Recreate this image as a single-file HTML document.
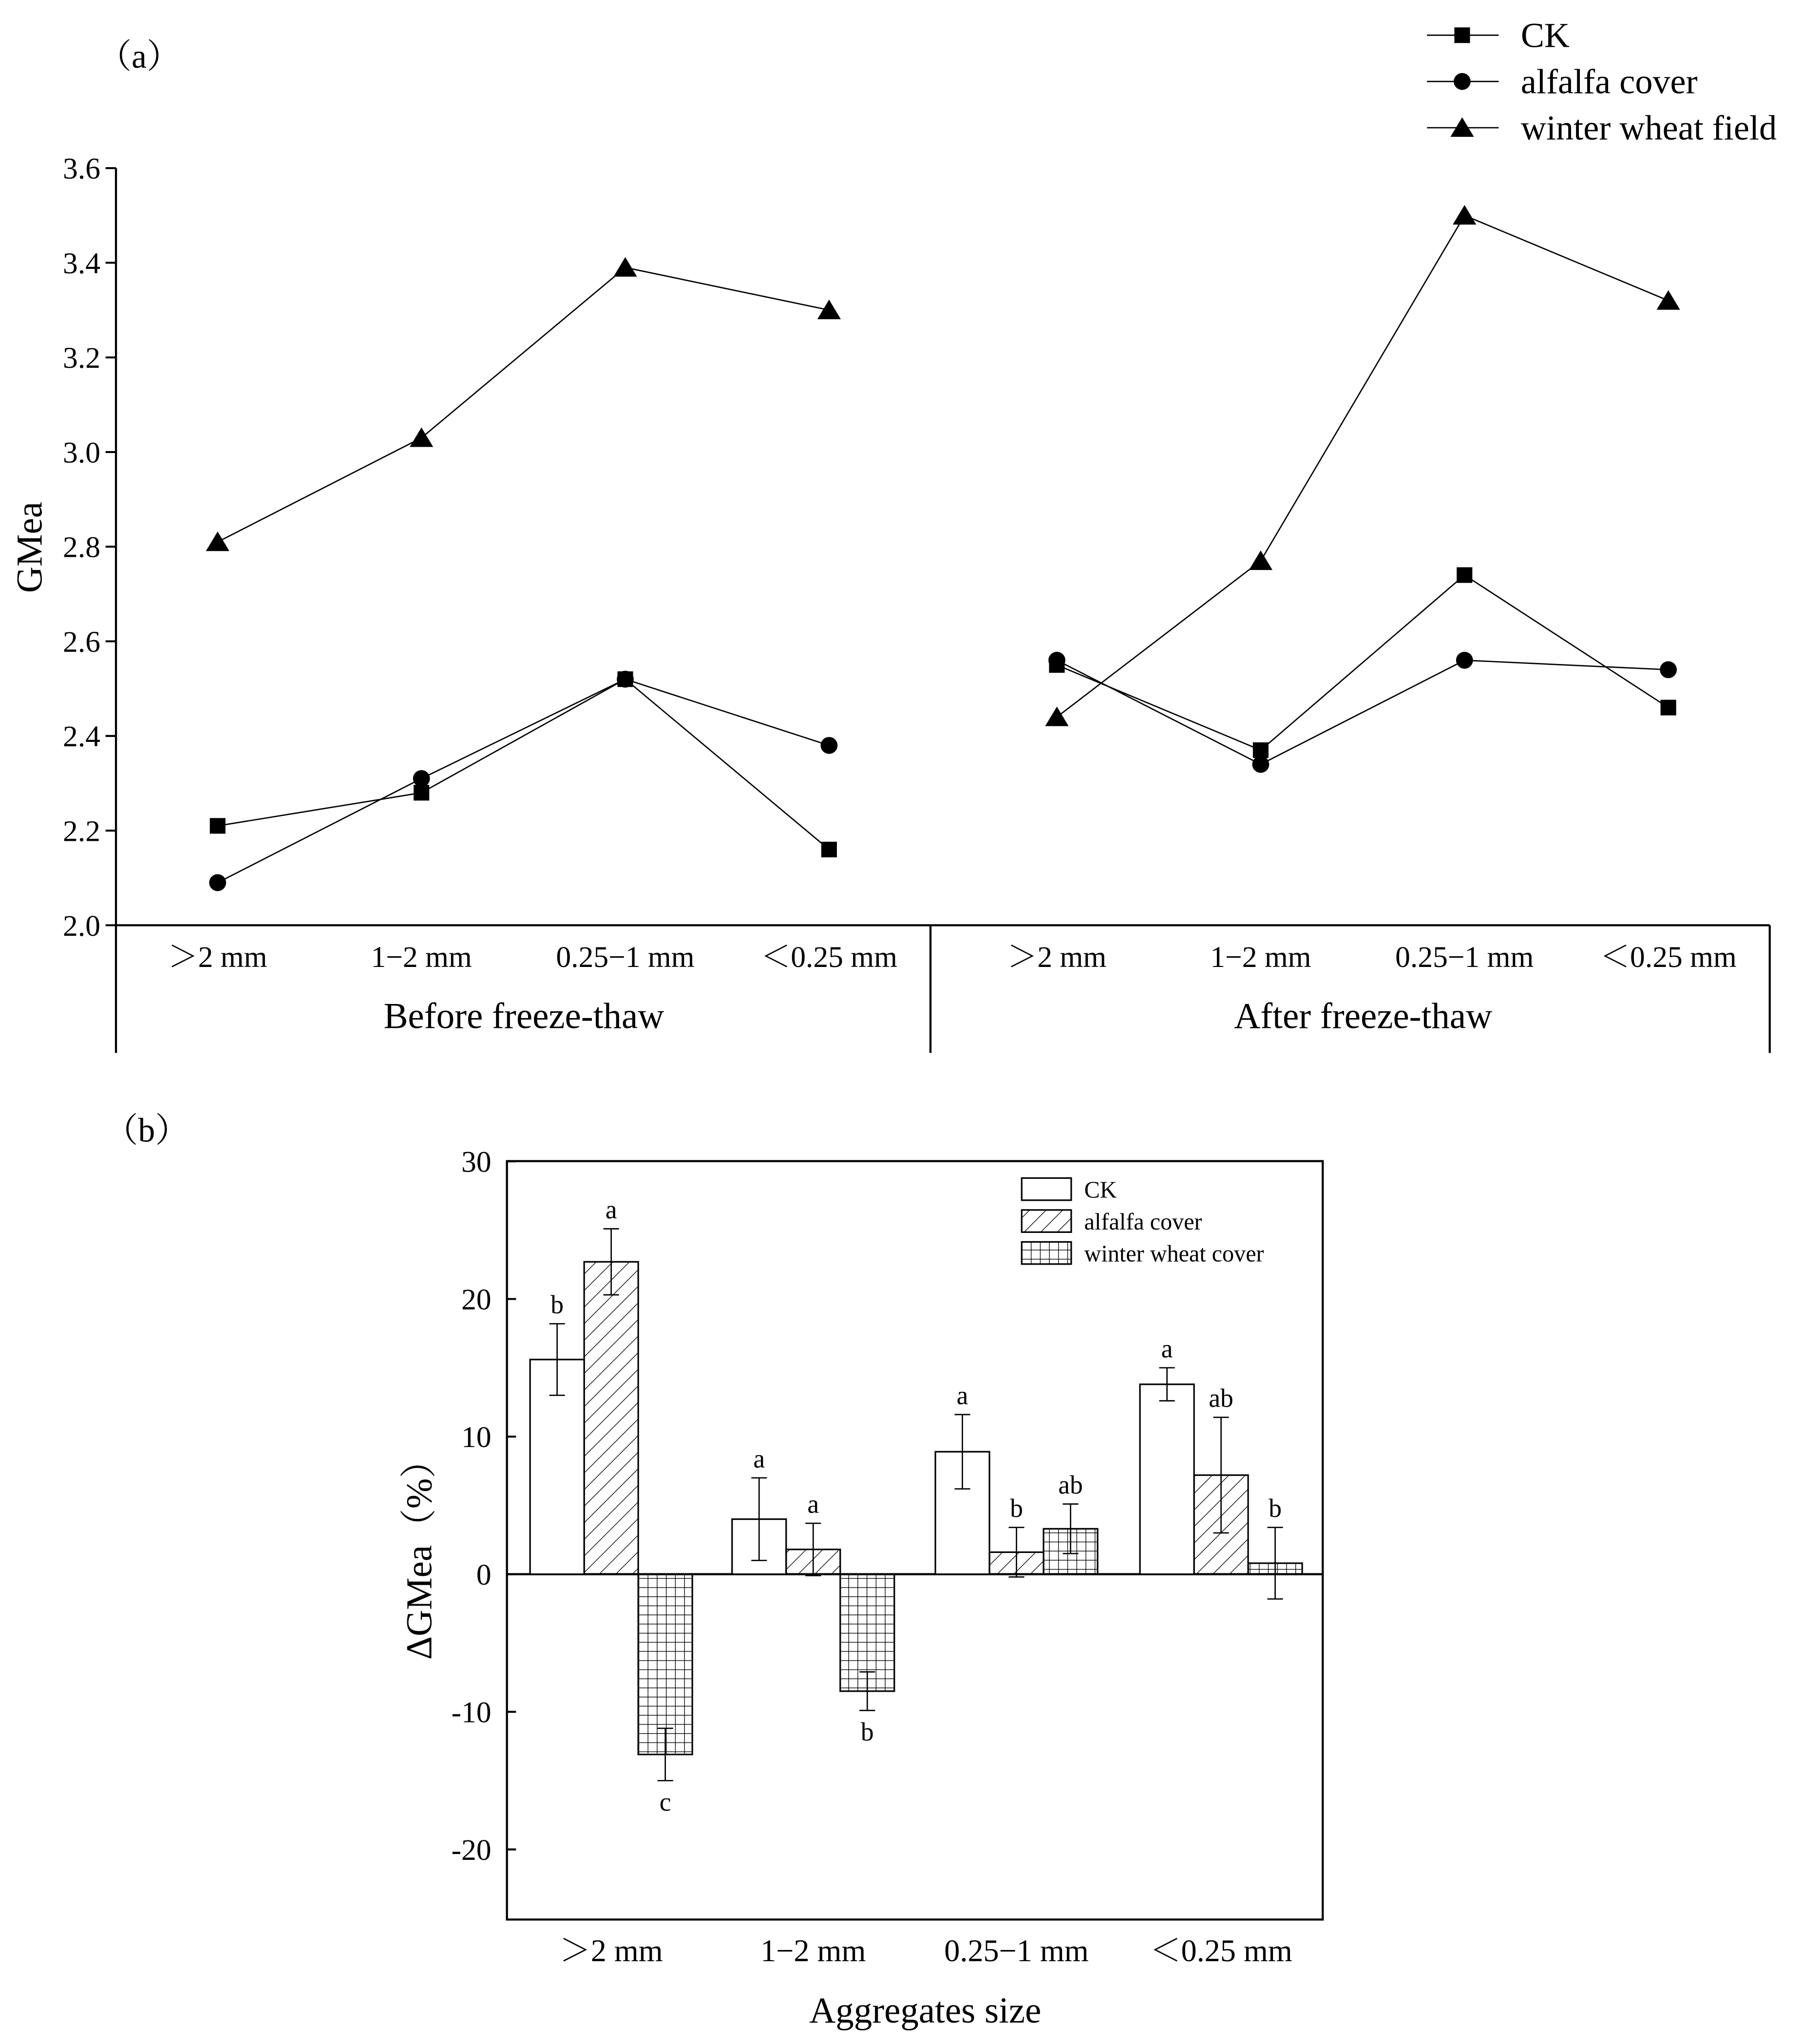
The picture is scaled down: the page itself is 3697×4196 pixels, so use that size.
<!DOCTYPE html>
<html><head><meta charset="utf-8"><style>
html,body{margin:0;padding:0;background:#fff}
svg{display:block}
text{font-family:"Liberation Serif","Noto Serif CJK SC",serif;fill:#000}
</style></head><body>
<svg width="3697" height="4196" viewBox="0 0 1382 1568.5" xmlns="http://www.w3.org/2000/svg">
<defs>
<pattern id="diag" width="9" height="9" patternUnits="userSpaceOnUse" patternTransform="rotate(45)"><line x1="0" y1="0" x2="0" y2="9" stroke="#000" stroke-width="1"/></pattern>
<pattern id="grid" width="7" height="7" patternUnits="userSpaceOnUse"><path d="M0 0H7M0 0V7" stroke="#000" stroke-width="1" fill="none"/></pattern>
</defs>
<g id="pa"></g>
<g id="pb"></g>
</svg>
<script>
const NS='http://www.w3.org/2000/svg';
// Panel A data
const catsA=['＞2 mm','1\u22122 mm','0.25\u22121 mm','＜0.25 mm'];
const groupsA=['Before freeze-thaw','After freeze-thaw'];
const ckBefore=[2.21,2.28,2.52,2.16];
const ckAfter=[2.55,2.37,2.74,2.46];
const alfBefore=[2.09,2.31,2.52,2.38];
const alfAfter=[2.56,2.34,2.56,2.54];
const whtBefore=[2.81,3.03,3.39,3.30];
const whtAfter=[2.44,2.77,3.50,3.32];
const ticksA=[2.0,2.2,2.4,2.6,2.8,3.0,3.2,3.4,3.6];
// Panel B data
const catsB=['＞2 mm','1\u22122 mm','0.25\u22121 mm','＜0.25 mm'];
const ckVals=[15.6,4.0,8.9,13.8];
const ckErr=[2.6,3.0,2.7,1.2];
const ckLet=['b','a','a','a'];
const alfVals=[22.7,1.8,1.6,7.2];
const alfErr=[2.4,1.9,1.8,4.2];
const alfLet=['a','a','b','ab'];
const whtVals=[-13.1,-8.5,3.3,0.8];
const whtErr=[1.9,1.4,1.8,2.6];
const whtLet=['c','b','ab','b'];
const ticksB=[-20,-10,0,10,20,30];

function el(p,t,a,txt){const e=document.createElementNS(NS,t);for(const k in a)e.setAttribute(k,a[k]);if(txt!==undefined)e.textContent=txt;p.appendChild(e);return e;}
const pa=document.getElementById('pa'), pb=document.getElementById('pb');

// ---- Panel A ----
const yA=v=>710-(v-2.0)/1.6*581;
const xA=(g,i)=>(g===0?167:811)+i*156.4;
let t=el(pa,'text',{x:75,y:52,'font-size':26},'（a）');


const ax=el(pa,'path',{d:'M89 129V808M89 710H1358M714 710V808M1358 710V808',stroke:'#000','stroke-width':1.6,fill:'none'});


ticksA.forEach(v=>{
  const y=yA(v);
  const tk=el(pa,'line',{x1:81,x2:89,y1:y,y2:y,stroke:'#000','stroke-width':1.5});
  
  
  const lb=el(pa,'text',{x:77,y:y+8,'font-size':23,'text-anchor':'end'},v.toFixed(1));
  
  
});
t=el(pa,'text',{x:0,y:0,'font-size':28,'text-anchor':'middle',transform:'translate(32,420) rotate(-90)'},'GMea');


[0,1].forEach(g=>{
  catsA.forEach((c,i)=>{
    const lb=el(pa,'text',{x:xA(g,i),y:742,'font-size':23,'text-anchor':'middle'},c);
    
    
  });
  const gl=el(pa,'text',{x:g===0?402:1046,y:789,'font-size':28,'text-anchor':'middle'},groupsA[g]);
  
  
});
function marker(p,type,x,y){
  let m;
  if(type==='sq') m=el(p,'rect',{x:x-6,y:y-6,width:12,height:12,fill:'#000'});
  else if(type==='ci') m=el(p,'circle',{cx:x,cy:y,r:6.5,fill:'#000'});
  else m=el(p,'polygon',{points:`${x},${y-8} ${x-9},${y+7} ${x+9},${y+7}`,fill:'#000'});
  return m;
}
const seriesA=[['ck',ckBefore,ckAfter,'sq'],['alfalfa',alfBefore,alfAfter,'ci'],['wheat',whtBefore,whtAfter,'tr']];
seriesA.forEach(([n,b,a,m])=>{
  [b,a].forEach((arr,g)=>{
    const ln=el(pa,'polyline',{points:arr.map((v,i)=>xA(g,i)+','+yA(v)).join(' '),fill:'none',stroke:'#000','stroke-width':1});
    
    
    arr.forEach((v,i)=>{
      const mk=marker(pa,m,xA(g,i),yA(v));
      
      
    });
  });
});
const legA=[['CK','sq'],['alfalfa cover','ci'],['winter wheat field','tr']];
legA.forEach(([n,m],i)=>{
  const y=27+i*35.5;
  const g=el(pa,'g',{});
  
  
  el(g,'line',{x1:1095,x2:1150,y1:y,y2:y,stroke:'#000','stroke-width':1});
  marker(g,m,1122,y);
  el(g,'text',{x:1167,y:y+9,'font-size':27},n);
});

// ---- Panel B ----
const yB=v=>1208-v*10.56;
const cx=[469,624,780,937], bw=41.5;
t=el(pb,'text',{x:80,y:876,'font-size':26},'（b）');


const fr=el(pb,'rect',{x:389,y:891,width:626,height:582,fill:'none',stroke:'#000','stroke-width':1.6});


const zl=el(pb,'line',{x1:389,x2:1015,y1:yB(0),y2:yB(0),stroke:'#000','stroke-width':1.6});


ticksB.forEach(v=>{
  const y=yB(v);
  const tk=el(pb,'line',{x1:389,x2:396,y1:y,y2:y,stroke:'#000','stroke-width':1.5});
  
  
  const lb=el(pb,'text',{x:377,y:y+8,'font-size':23,'text-anchor':'end'},v);
  
  
});
t=el(pb,'text',{x:0,y:0,'font-size':28,'text-anchor':'middle',transform:'translate(331,1190) rotate(-90)'},'ΔGMea（%）');


catsB.forEach((c,i)=>{
  const lb=el(pb,'text',{x:cx[i],y:1505,'font-size':24,'text-anchor':'middle'},c);
  
  
});
t=el(pb,'text',{x:710,y:1552,'font-size':28,'text-anchor':'middle'},'Aggregates size');


const seriesB=[['ck',ckVals,ckErr,ckLet,'#fff'],['alfalfa',alfVals,alfErr,alfLet,'url(#diag)'],['wheat',whtVals,whtErr,whtLet,'url(#grid)']];
seriesB.forEach(([n,vals,errs,lets,fill],s)=>{
  vals.forEach((v,i)=>{
    const x0=cx[i]-bw*1.5+s*bw, xm=x0+bw/2;
    const y0=Math.min(yB(v),yB(0)), h=Math.abs(yB(v)-yB(0));
    const b=el(pb,'rect',{x:x0,y:y0,width:bw,height:h,fill:fill,stroke:'#000','stroke-width':1.2});
    
    
    const yh=yB(v+errs[i]), yl=yB(v-errs[i]);
    const e=el(pb,'path',{d:`M${xm} ${yh}V${yl}M${xm-6} ${yh}H${xm+6}M${xm-6} ${yl}H${xm+6}`,stroke:'#000','stroke-width':1,fill:'none'});
    
    
    const ly=v>=0?yh-8:yl+23;
    const l=el(pb,'text',{x:xm,y:ly,'font-size':20,'text-anchor':'middle'},lets[i]);
    
    
  });
});
const legB=[['CK','#fff'],['alfalfa cover','url(#diag)'],['winter wheat cover','url(#grid)']];
legB.forEach(([n,f],i)=>{
  const y=904+i*24.5;
  const g=el(pb,'g',{});
  
  
  el(g,'rect',{x:784,y:y,width:38,height:17,fill:f,stroke:'#000','stroke-width':1.2});
  el(g,'text',{x:832,y:y+15,'font-size':18},n);
});
</script>
</body></html>
